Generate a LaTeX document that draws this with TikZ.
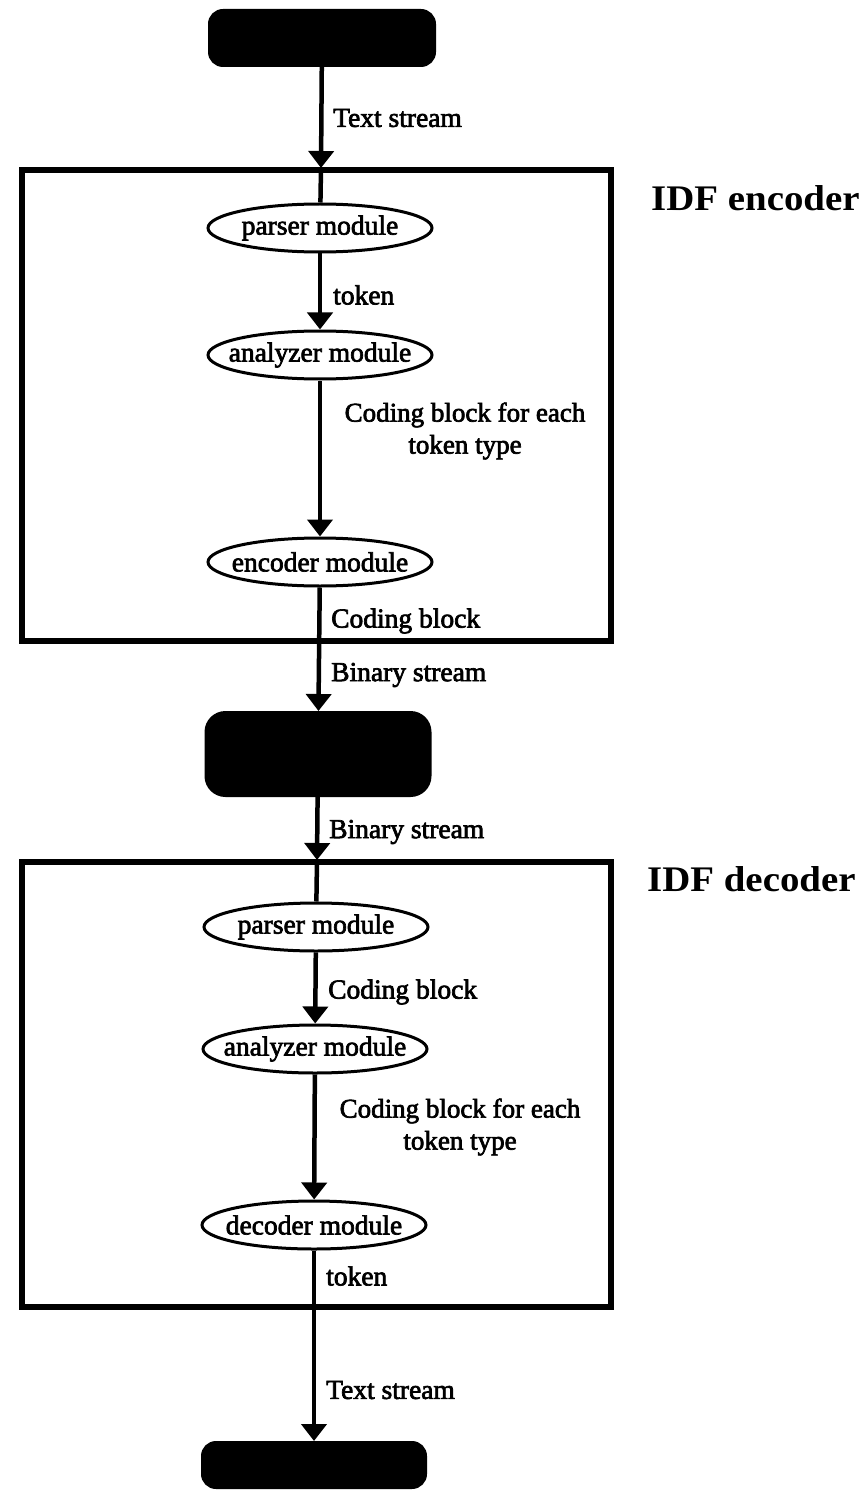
\documentclass[tikz,border=0pt]{standalone}
\usepackage{fontspec}
\usepackage{graphicx}
\setmainfont{Liberation Serif}
\newfontfamily\labfont[FakeBold=2.5]{Liberation Serif}
\newcommand{\modtext}[1]{\makebox[140pt]{#1}}
\usetikzlibrary{shapes.geometric,arrows.meta}
\tikzset{
  blackbox/.style={draw=black,fill=black,rounded corners=14pt,line width=2pt},
  module/.style={ellipse,draw,line width=3pt,inner sep=0pt,minimum width=224pt,minimum height=48pt,
    font=\labfont\fontsize{27.5}{30}\selectfont},
  frame/.style={draw,line width=6pt,rectangle,inner sep=0pt},
  conn/.style={line width=4.5pt},
  arr/.style={conn,-{Triangle[width=25pt,length=17pt]}},
  lab/.style={anchor=west,inner sep=0pt,font=\labfont\fontsize{27.5}{32}\selectfont},
  lab2/.style={align=center,inner sep=0pt,font=\labfont\fontsize{27}{32}\selectfont},
  title/.style={anchor=west,inner sep=0pt,font=\bfseries\fontsize{36}{38}\selectfont}
}
\begin{document}
\begin{tikzpicture}[x=1pt,y=-1pt]
\useasboundingbox (0,0) rectangle (864,1495);
% frames
\node[frame,minimum width=589pt,minimum height=471pt] (enc) at (316.5,405.5) {};
\node[frame,minimum width=589pt,minimum height=445pt] (dec) at (316.5,1084.5) {};
\node[title] (enct) at (651,198) {\scalebox{1.08}[1]{IDF encoder}};
\node[title] (dect) at (647,879) {\scalebox{1.08}[1]{IDF decoder}};
% black boxes
\node[blackbox,minimum width=226pt,minimum height=56pt] (top) at (322,38) {};
\node[blackbox,minimum width=225pt,minimum height=84pt,rounded corners=20pt] (mid) at (318,754) {};
\node[blackbox,minimum width=224pt,minimum height=46pt] (bot) at (314,1465) {};
% modules
\node[module] (parE) at (320,228) {\modtext{parser module}};
\node[module] (anaE) at (320,355) {\modtext{analyzer module}};
\node[module] (encM) at (320,562) {\modtext{encoder module}};
\node[module] (parD) at (316,927) {\modtext{parser module}};
\node[module] (anaD) at (315,1049) {\modtext{analyzer module}};
\node[module] (decM) at (314,1225) {\modtext{decoder module}};
% entry points on frame tops
\coordinate (encin) at (321,168);
\coordinate (decin) at (317,860);
% connectors
\draw[arr] (top) -- (encin);
\draw[conn] (encin) -- (parE);
\draw[arr] (parE) -- (anaE);
\draw[arr] (anaE) -- (encM);
\draw[arr] (encM) -- (mid);
\draw[arr] (mid) -- (decin);
\draw[conn] (decin) -- (parD);
\draw[arr] (parD) -- (anaD);
\draw[arr] (anaD) -- (decM);
\draw[arr] (decM) -- (bot);
% labels
\node[lab] (l1) at (333,118) {Text stream};
\node[lab] (l2) at (333,295) {token};
\node[lab2] (l3) at (465,431) {Coding block for each\\token type};
\node[lab] (l4) at (331,621) {Coding block};
\node[lab] (l5) at (331,675) {Binary stream};
\node[lab] (l6) at (329,832) {Binary stream};
\node[lab] (l7) at (328,992) {Coding block};
\node[lab2] (l8) at (460,1127) {Coding block for each\\token type};
\node[lab] (l9) at (326,1276) {token};
\node[lab] (l10) at (326,1390) {Text stream};
\end{tikzpicture}
\end{document}
